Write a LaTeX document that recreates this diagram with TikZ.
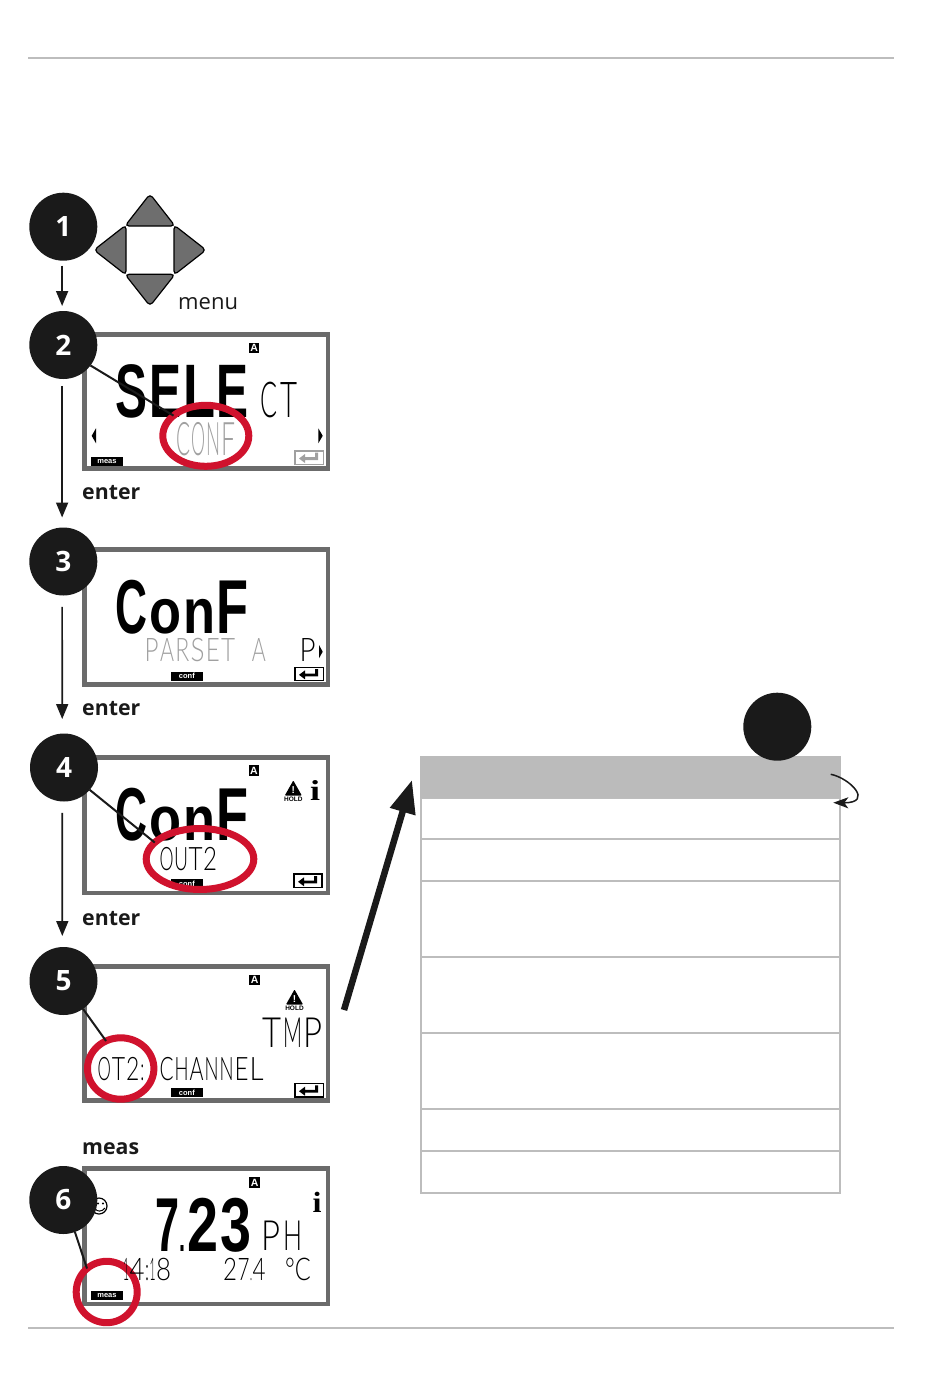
\documentclass[tikz,border=0pt]{standalone}
\usepackage{graphicx}
\usepackage{fontspec}
\setmainfont{Open Sans}
\newfontfamily\lcdb{Liberation Sans}
\newfontfamily\lcdt{Lato Light}
\newfontfamily\lcdi{Liberation Serif}
\usetikzlibrary{arrows.meta,shapes.geometric}
\definecolor{circ}{HTML}{1A1A1A}
\definecolor{framegray}{HTML}{6B6B6B}
\definecolor{redring}{HTML}{D0122D}
\definecolor{lcdgray}{HTML}{A0A0A0}
\definecolor{rulegray}{HTML}{BDBDBD}
\definecolor{headgray}{HTML}{BBBBBB}
\definecolor{padgray}{HTML}{6E6E6E}
\tikzset{
  stepdot/.style={circle,fill=circ,minimum size=68pt,inner sep=0pt,outer sep=0pt,text=white,font=\bfseries\fontsize{28}{28}\selectfont},
  lcdframe/.style={rectangle,draw=framegray,line width=4.5pt,fill=white,inner sep=0pt,outer sep=0pt},
  ring/.style={ellipse,draw=redring,line width=7pt,inner sep=0pt,outer sep=0pt},
  leader/.style={draw=circ,line width=2pt},
  flow/.style={draw=circ,line width=1.7pt,-{Triangle[length=15pt,width=12pt]}},
  steplabel/.style={anchor=base west,inner sep=0pt,font=\bfseries\fontsize{21.3}{21.3}\selectfont,text=circ},
  badge/.style={fill=black,text=white,inner sep=0pt,font=\lcdb\bfseries\fontsize{7.5}{7.5}\selectfont},
  abadge/.style={fill=black,text=white,inner sep=0pt,minimum size=10.5pt,font=\lcdb\bfseries\fontsize{10.5}{10.5}\selectfont},
  pad/.style={fill=padgray,draw=black,line width=1.2pt,rounded corners=4pt},
  rowbox/.style={rectangle,draw=rulegray,line width=2pt,inner sep=0pt,outer sep=0pt},
  big/.style={text=black,font=\lcdb\bfseries},
  thin/.style={text=black,font=\lcdt},
  dim/.style={text=lcdgray,font=\lcdt},
}
\newlength\cw \newlength\ch \newlength\cg
% one LCD cell: full height / x-height / own width
\newcommand{\lc}[1]{\resizebox{\cw}{\ch}{\rule{0pt}{.72em}\smash{#1}}\hspace{\cg}}
\newcommand{\lcs}[1]{\resizebox{\cw}{.6\ch}{\rule{0pt}{.52em}\smash{#1}}\hspace{\cg}}
\newcommand{\lcw}[2]{\resizebox{#1pt}{\ch}{\rule{0pt}{.72em}\smash{#2}}\hspace{\cg}}
\newcommand{\lcdot}[1]{\resizebox{#1pt}{#1pt}{.}\hspace{\cg}}
% name,x1,y1,y2,style,cellw,gap,cells
\newcommand{\lcdrow}[8]{%
  \pgfmathsetmacro\myht{#4-#3}%
  \node[inner sep=0pt,anchor=west,#5] (#1) at (#2,{(#3+#4)/2}) {\setlength\cw{#6pt}\setlength\cg{#7pt}\setlength\ch{\myht pt}#8};}
% name,x1,y1,x2,y2,style,text
\newcommand{\lcdtext}[7]{%
  \pgfmathsetmacro\mywd{#4-#2}\pgfmathsetmacro\myht{#5-#3}%
  \node[inner sep=0pt,#6] (#1) at ({(#2+#4)/2},{(#3+#5)/2}) {\resizebox{\mywd pt}{\myht pt}{#7}};}
% name,x1,y1,x2,y2 : frame, outer edges
\newcommand{\lcdbox}[5]{%
  \pgfmathsetmacro\mywd{#4-#2-4.5}\pgfmathsetmacro\myht{#5-#3-4.5}%
  \node[lcdframe,minimum width=\mywd pt,minimum height=\myht pt] (#1) at ({(#2+#4)/2},{(#3+#5)/2}) {};}
% name,x1,y1,x2,y2,colour
\newcommand{\enterkey}[6]{%
  \pgfmathsetmacro\mywd{#4-#2-1.5}\pgfmathsetmacro\myht{#5-#3-1.5}%
  \node[draw=#6,line width=1.5pt,inner sep=0pt,minimum width=\mywd pt,minimum height=\myht pt] (#1) at ({(#2+#4)/2},{(#3+#5)/2}) {};
  \fill[#6] ([shift={(-10pt,-1pt)}]#1.center) -- ++(6,-4.5) -- ++(0,3.2) -- ++(10,0) -- ++(0,-4.5) -- ++(3,0) -- ++(0,7.3) -- ++(-13,0) -- ++(0,3) -- cycle;}
\newcommand{\badge}[6]{%
  \pgfmathsetmacro\mywd{#4-#2}\pgfmathsetmacro\myht{#5-#3}%
  \node[badge,minimum width=\mywd pt,minimum height=\myht pt] (#1) at ({(#2+#4)/2},{(#3+#5)/2}) {#6};}
\newcommand{\holdicon}[3]{% name, cx, top
  \fill[black,rounded corners=0.8pt] (#2,#3) -- ++(8.5,15) -- ++(-17,0) -- cycle;
  \node[inner sep=0pt,text=white,font=\lcdb\bfseries\fontsize{10}{10}\selectfont] (#1b) at (#2,#3+9.5) {!};
  \node[inner sep=0pt,text=black,font=\lcdb\bfseries\fontsize{6.5}{6.5}\selectfont] (#1) at (#2,#3+18.5) {HOLD};}
\begin{document}
\begin{tikzpicture}[x=1pt,y=-1pt]
\useasboundingbox (0,0) rectangle (950,1383);
% page rules
\coordinate (ruleTL) at (28,58); \coordinate (ruleTR) at (894,58);
\coordinate (ruleBL) at (28,1328); \coordinate (ruleBR) at (894,1328);
\draw[rulegray,line width=2pt] (ruleTL) -- (ruleTR);
\draw[rulegray,line width=2pt] (ruleBL) -- (ruleBR);
% keypad
\filldraw[pad] (150,194) -- (175,226) -- (125,226) -- cycle;
\filldraw[pad] (150,306) -- (175,274.3) -- (125,274.3) -- cycle;
\filldraw[pad] (94,250) -- (126,225) -- (126,275) -- cycle;
\filldraw[pad] (206,250) -- (174,225) -- (174,275) -- cycle;
\node[anchor=base west,inner sep=0pt,font=\fontsize{22}{22}\selectfont,text=circ] (menu) at (178,309) {menu};
% ---- frames
\lcdbox{b2}{82.3}{332.3}{330}{470.7}
\lcdbox{b3}{82.3}{547.3}{330}{686.7}
\lcdbox{b4}{82.3}{755}{330}{895}
\lcdbox{b5}{82.3}{964.3}{330}{1102.7}
\lcdbox{b6}{82.3}{1166}{330}{1306}
% ---- box 2
\node[abadge] (a2) at (254.2,348) {A};
\lcdrow{t2a}{115.5}{362.7}{417.3}{big}{32}{1.7}{\lc{S}\lc{E}\lc{L}\lc{E}}
\lcdrow{t2b}{260.5}{381.7}{417.3}{thin}{17}{3}{\lc{C}\lc{T}}
\lcdrow{t2c}{176}{421.7}{455}{dim}{14}{1}{\lc{C}\lc{O}\lc{N}\lc{F}}
\fill[black] (91.7,435.8) -- (96,428.3) -- (96,443.3) -- cycle;
\fill[black] (322.7,435.8) -- (318.3,428.3) -- (318.3,443.3) -- cycle;
\badge{m2}{91.3}{456.7}{122.7}{465.7}{meas}
\enterkey{k2}{294}{450}{324}{465}{lcdgray}
% ---- box 3
\lcdrow{t3a}{115.5}{578.3}{633.3}{big}{32}{1.7}{\lc{C}\lcs{o}\lcs{n}\lc{F}}
\lcdrow{t3b}{144.5}{638.3}{661.7}{dim}{14}{1.3}{\lc{P}\lc{A}\lc{R}\lc{S}\lc{E}\lc{T}\hspace{15.3pt}\lc{A}}
\lcdrow{t3c}{299.5}{638.3}{661.7}{thin}{16}{0}{\lc{P}}
\fill[black] (322.7,651.7) -- (319,645) -- (319,658.3) -- cycle;
\badge{m3}{171}{671.7}{202.7}{680.7}{conf}
\enterkey{k3}{294}{666.7}{324}{681}{black}
% ---- box 4
\node[abadge] (a4) at (254,770.7) {A};
\lcdrow{t4a}{115.5}{786}{840}{big}{32}{1.7}{\lc{C}\lcs{o}\lcs{n}\lc{F}}
\lcdrow{t4b}{159.5}{846.7}{870}{thin}{14}{.5}{\lc{O}\lc{U}\lc{T}\lc{2}}
\badge{m4}{171}{879}{202.7}{888}{conf}
\holdicon{h4}{293.3}{780.5}
\lcdtext{i4}{310}{780}{320}{800}{text=black,font=\lcdi\bfseries}{i}
\enterkey{k4}{293.3}{873.3}{322.7}{888.3}{black}
% ---- box 5
\node[abadge] (a5) at (254.7,980) {A};
\holdicon{h5}{294.5}{989.5}
\lcdrow{t5a}{262.5}{1017.3}{1047.3}{thin}{19}{1.3}{\lc{T}\lc{M}\lc{P}}
\lcdrow{t5b}{97.5}{1056.7}{1080}{thin}{13.3}{.9}{\lc{O}\lc{T}\lc{2}\lcw{4}{:}}
\lcdrow{t5c}{159.5}{1056.7}{1080}{thin}{14}{1}{\lc{C}\lc{H}\lc{A}\lc{N}\lc{N}\lc{E}\lc{L}}
\badge{m5}{171}{1088.3}{202.7}{1097}{conf}
\enterkey{k5}{294}{1082.7}{324}{1097.7}{black}
% ---- box 6
\node[abadge] (a6) at (254.7,1182.7) {A};
\draw[black,line width=1.2pt] (99,1206) circle (8);
\fill[black] (98,1203.5) circle (1.2) (103,1203.5) circle (1.2);
\draw[black,line width=1pt] (95,1208.5) .. controls (97,1212) and (102,1212) .. (105,1208);
\lcdtext{i6}{312.7}{1191.7}{321.7}{1212}{text=black,font=\lcdi\bfseries}{i}
\lcdrow{t6a}{155}{1196.7}{1251.7}{big}{24}{0}{\lcw{24}{7}\lcdot{6}\hspace{2pt}\lcw{31}{2}\hspace{2pt}\lcw{31}{3}}
\lcdrow{t6b}{261}{1220.7}{1250.7}{thin}{19}{3}{\lc{P}\lc{H}}
\lcdrow{t6d}{223}{1258.3}{1280.7}{thin}{13}{.5}{\lcw{14}{2}\lcw{12}{7}\lcdot{2}\lcw{13}{4}}
\lcdtext{t6e}{285}{1258.3}{310.7}{1280.7}{thin}{°C}
\badge{m6}{91.3}{1291}{122.7}{1300}{meas}
% ---- step labels
\node[steplabel] (l2) at (82,499) {enter};
\node[steplabel] (l3) at (82,715) {enter};
\node[steplabel] (l4) at (82,925) {enter};
\node[steplabel] (l5) at (82,1154) {meas};
% ---- rings
\node[ring,minimum width=86pt,minimum height=61pt] (e2) at (205.8,435.8) {};
\node[ring,minimum width=107.6pt,minimum height=61pt] (e4) at (200,859) {};
\node[ring,minimum width=66.4pt,minimum height=61.4pt] (e5) at (120.7,1068.5) {};
\node[ring,minimum width=61pt,minimum height=61.4pt] (e6) at (106.7,1292) {};
\lcdrow{t6c}{123}{1258.3}{1280.7}{thin}{13}{.5}{\lcw{6}{1}\lcw{15}{4}\lcw{4}{:}\lcw{6}{1}\lcw{15}{8}}
% ---- step dots
\node[stepdot] (c1) at (63.3,226.7) {1};
\node[stepdot] (c2) at (63.3,345) {2};
\node[stepdot] (c3) at (63.3,561.5) {3};
\node[stepdot] (c4) at (64,767.5) {4};
\node[stepdot] (c5) at (63.5,981) {5};
\node[stepdot] (c6) at (63.3,1200) {6};
% ---- leaders
\draw[leader] (c2.-37) -- (e2.148);
\draw[leader] (c4.-41) -- (e4.160);
\draw[leader] (c5.-55) -- (e5.118);
\draw[leader] (c6.-70) -- (e6.130);
% ---- flow arrows
\draw[flow,shorten <=5pt,shorten >=5pt] (c1.-92) -- (c2.92);
\draw[flow,shorten <=7pt,shorten >=10pt] (c2.-92) -- (c3.92);
\draw[flow,shorten <=11.5pt,shorten >=14.5pt] (c3.-92) -- (c4.93.4);
\draw[flow,shorten <=11.5pt,shorten >=11pt] (c4.-93.4) -- (c5.92.5);
% ---- table
\node[rowbox,minimum width=418.5pt,minimum height=41pt] (r1) at (630.7,818.5) {};
\node[rowbox,minimum width=418.5pt,minimum height=42pt] (r2) at (630.7,860) {};
\node[rowbox,minimum width=418.5pt,minimum height=76pt] (r3) at (630.7,919) {};
\node[rowbox,minimum width=418.5pt,minimum height=76pt] (r4) at (630.7,995) {};
\node[rowbox,minimum width=418.5pt,minimum height=76pt] (r5) at (630.7,1071) {};
\node[rowbox,minimum width=418.5pt,minimum height=42pt] (r6) at (630.7,1130) {};
\node[rowbox,minimum width=418.5pt,minimum height=42pt] (r7) at (630.7,1172) {};
\node[fill=headgray,inner sep=0pt,minimum width=421pt,minimum height=42pt] (hd) at (630.5,777) {};
\node[stepdot] (c7) at (777.3,726.7) {};
\coordinate (curlA) at (830.7,774.3);
\coordinate (curlB) at (833.3,802.7);
\draw[circ,line width=1.5pt,-{Stealth[length=15pt,width=11pt,inset=4pt]}] (curlA) .. controls (850,778) and (874,803) .. (curlB);
\coordinate (bigA) at (344,1010);
\coordinate (bigB) at (412,780);
\draw[circ,line width=6.5pt,-{Triangle[length=33pt,width=25pt]}] (bigA) -- (bigB);
\end{tikzpicture}
\end{document}
